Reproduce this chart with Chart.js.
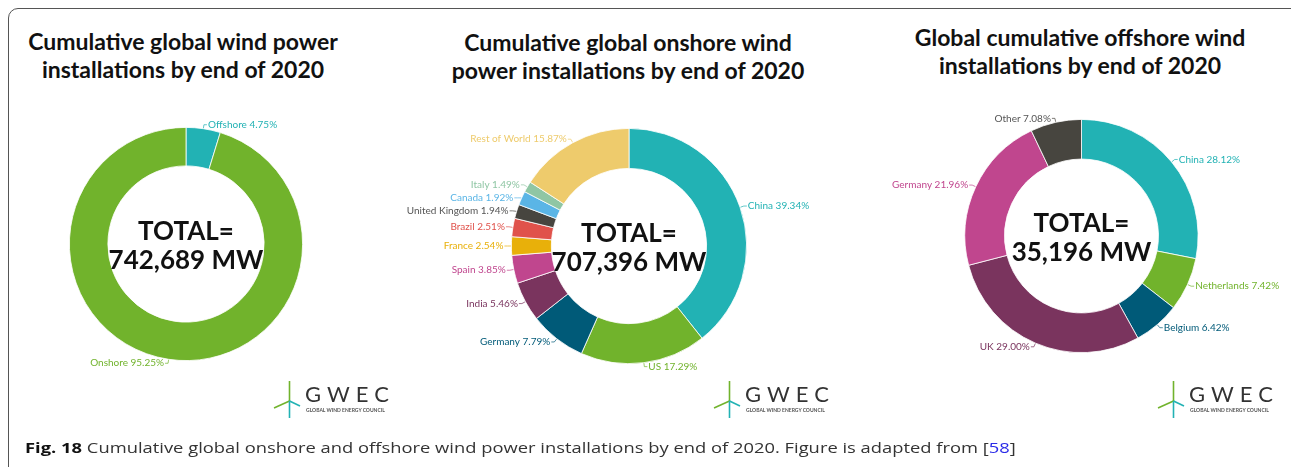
<!DOCTYPE html>
<html>
<head>
<meta charset="utf-8">
<script src="https://cdn.jsdelivr.net/npm/chart.js@4.4.1/dist/chart.umd.min.js"></script>
<style>
  body { margin: 0; width: 1291px; height: 467px; overflow: hidden; background: #fff; position: relative; font-family: Lato, sans-serif; }
  .frame { position: absolute; left: 8px; top: 8px; width: 1300px; height: 480px; border: 1px solid #555; border-top-left-radius: 10px; box-sizing: border-box; }
  canvas { position: absolute; left: 0; top: 0; }
  .title { position: absolute; transform: translateX(-50%); text-align: center; font-weight: 700; font-size: 23px; line-height: 28px; color: #111; white-space: nowrap; }
  .logo { position: absolute; top: 380px; width: 120px; height: 40px; }
  .logo svg { position: absolute; left: 0; top: 0; }
  .logo .gw { position: absolute; left: 32px; top: 1px; font-size: 22px; line-height: 26px; letter-spacing: 6px; color: #333; }
  .logo .gs { position: absolute; left: 33px; top: 27px; font-size: 5px; line-height: 6px; font-weight: 700; color: #555; white-space: nowrap; }
  .caption { position: absolute; left: 25px; top: 437px; font-family: 'Open Sans', sans-serif; font-size: 15px; line-height: 20px; color: #333; white-space: nowrap; transform: scaleX(1.224); transform-origin: 0 0; }
  .caption b { color: #111; }
  .caption span { color: #2b2be8; }
</style>
</head>
<body>
<div class="frame"></div>

<div class="title" style="left:183px; top:27px">Cumulative global wind power<br>installations by end of 2020</div>
<div class="title" style="left:628px; top:28px">Cumulative global onshore wind<br>power installations by end of 2020</div>
<div class="title" style="left:1080px; top:23px">Global cumulative offshore wind<br>installations by end of 2020</div>

<canvas id="c1" width="1291" height="467"></canvas>
<canvas id="c2" width="1291" height="467"></canvas>
<canvas id="c3" width="1291" height="467"></canvas>

<div class="logo" style="left:273px"></div>
<div class="logo" style="left:713px"></div>
<div class="logo" style="left:1157px"></div>

<div class="caption"><b>Fig. 18</b> Cumulative global onshore and offshore wind power installations by end of 2020. Figure is adapted from [<span>58</span>]</div>

<script>
// colours used by the GWEC graphics
const teal = '#22b2b4', green = '#71b32c', navy = '#005a78', plum = '#7a345e',
      pink = '#c0468e', gold = '#e8b00a', red = '#e0524b', charcoal = '#47453f',
      sky = '#5ab5e6', mint = '#8fc6a4', sand = '#eecb6c';

// total wind power
const totalLabels = ['Offshore', 'Onshore'];
const totalShares = [4.75, 95.25];
const totalColors = [teal, green];

// onshore
const onshoreLabels = ['China', 'US', 'Germany', 'India', 'Spain', 'France', 'Brazil',
                       'United Kingdom', 'Canada', 'Italy', 'Rest of World'];
const onshoreShares = [39.34, 17.29, 7.79, 5.46, 3.85, 2.54, 2.51, 1.94, 1.92, 1.49, 15.87];
const onshoreColors = [teal, green, navy, plum, pink, gold, red, charcoal, sky, mint, sand];

// offshore
const offshoreLabels = ['China', 'Netherlands', 'Belgium', 'UK', 'Germany', 'Other'];
const offshoreShares = [28.12, 7.42, 6.42, 29.00, 21.96, 7.08];
const offshoreColors = [teal, green, navy, plum, pink, charcoal];

const centerTotals = [['TOTAL=', '742,689 MW'], ['TOTAL=', '707,396 MW'], ['TOTAL=', '35,196 MW']];

// labels outside the ring with thin leader lines
const outsideLabels = {
    id: 'outsideLabels',
    afterDatasetsDraw(chart) {
        const ctx = chart.ctx;
        const ds = chart.data.datasets[0];
        const items = [];
        chart.getDatasetMeta(0).data.forEach((arc, i) => {
            const p = arc.getProps(['x', 'y', 'startAngle', 'endAngle', 'outerRadius'], true);
            const mid = (p.startAngle + p.endAngle) / 2;
            const R = p.outerRadius + 4;
            items.push({
                i, cx: p.x, cy: p.y, R,
                ax: p.x + Math.cos(mid) * (p.outerRadius + 0.5),
                ay: p.y + Math.sin(mid) * (p.outerRadius + 0.5),
                y: p.y + Math.sin(mid) * R,
                right: Math.cos(mid) >= 0,
                text: chart.data.labels[i] + ' ' + ds.data[i].toFixed(2) + '%'
            });
        });
        const gap = 13;
        [true, false].forEach(side => {
            const g = items.filter(l => l.right === side).sort((a, b) => a.y - b.y);
            for (let k = 1; k < g.length; k++) if (g[k].y < g[k - 1].y + gap) g[k].y = g[k - 1].y + gap;
            for (let k = g.length - 2; k >= 0; k--) if (g[k].y > g[k + 1].y - gap) g[k].y = g[k + 1].y - gap;
        });
        ctx.save();
        ctx.font = '10px Lato';
        ctx.textBaseline = 'middle';
        ctx.lineWidth = 0.7;
        items.forEach(l => {
            const col = ds.backgroundColor[l.i];
            const dy = l.y - l.cy;
            const dx = Math.sqrt(Math.max(l.R * l.R - dy * dy, 0));
            const ex = l.cx + (l.right ? dx : -dx);
            let tx = ex + (l.right ? 3 : -3);
            const w = ctx.measureText(l.text).width;
            if (l.right && tx + w > chart.width - 4) tx = chart.width - 4 - w;
            ctx.strokeStyle = col;
            ctx.beginPath();
            ctx.moveTo(l.ax, l.ay);
            ctx.lineTo(ex, l.y);
            ctx.lineTo(tx, l.y);
            ctx.stroke();
            ctx.fillStyle = col === charcoal ? '#555' : col;
            ctx.textAlign = l.right ? 'left' : 'right';
            ctx.fillText(l.text, tx + (l.right ? 1 : -1), l.y);
        });
        ctx.restore();
    }
};

const centerText = {
    id: 'centerText',
    afterDraw(chart, args, opts) {
        const arc = chart.getDatasetMeta(0).data[0];
        const ctx = chart.ctx;
        ctx.save();
        ctx.font = '700 26px Lato';
        ctx.fillStyle = '#111';
        ctx.textAlign = 'center';
        ctx.textBaseline = 'alphabetic';
        ctx.fillText(opts.lines[0], arc.x, arc.y - 4);
        ctx.fillText(opts.lines[1], arc.x, arc.y + 25);
        ctx.restore();
    }
};

function donut(id, labels, values, colors, lines, cx, cy, r, cut) {
    const W = 1291, H = 467;
    return new Chart(document.getElementById(id), {
        type: 'doughnut',
        data: {
            labels: labels,
            datasets: [{
                data: values,
                backgroundColor: colors,
                borderColor: '#ffffff',
                borderWidth: 0.8
            }]
        },
        options: {
            responsive: false,
            animation: false,
            cutout: cut,
            events: [],
            layout: {
                padding: { left: cx - r, top: cy - r, right: W - cx - r, bottom: H - cy - r }
            },
            plugins: {
                legend: { display: false },
                tooltip: { enabled: false },
                centerText: { lines: lines }
            }
        },
        plugins: [outsideLabels, centerText]
    });
}

// GWEC logo: small turbine mark plus wordmark
document.querySelectorAll('.logo').forEach(el => {
    el.innerHTML =
        '<svg width="32" height="40" viewBox="0 0 32 40">' +
        '<line x1="16.5" y1="1" x2="16.5" y2="21" stroke="' + green + '" stroke-width="1.6"/>' +
        '<line x1="16.5" y1="21" x2="1" y2="28" stroke="' + green + '" stroke-width="1.6"/>' +
        '<line x1="16.5" y1="21" x2="27" y2="26" stroke="' + teal + '" stroke-width="1.6"/>' +
        '<line x1="16.5" y1="21" x2="16.5" y2="38" stroke="' + teal + '" stroke-width="1.6"/>' +
        '</svg>' +
        '<div class="gw">GWEC</div>' +
        '<div class="gs">GLOBAL WIND ENERGY COUNCIL</div>';
});

// wait for Lato so the canvas text does not fall back
Promise.all([document.fonts.load('10px Lato'), document.fonts.load('700 26px Lato')]).then(() => {
    donut('c1', totalLabels, totalShares, totalColors, centerTotals[0], 186, 244, 117, '67%');
    donut('c2', onshoreLabels, onshoreShares, onshoreColors, centerTotals[1], 629, 246, 118, '66%');
    donut('c3', offshoreLabels, offshoreShares, offshoreColors, centerTotals[2], 1081.5, 236, 117, '66%');
});
</script>
</body>
</html>
